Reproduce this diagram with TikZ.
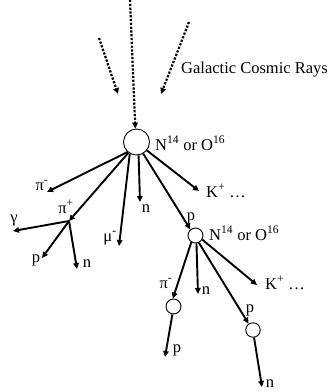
\documentclass[tikz,border=0pt]{standalone}
\usepackage{fontspec}
\setmainfont{Liberation Serif}
\usetikzlibrary{arrows.meta}

\begin{document}
\begin{tikzpicture}[
  x=1pt, y=-1pt,
  every node/.style={font=\fontsize{16.5}{19}\selectfont, inner sep=0pt},
  nucleus/.style={draw, circle, line width=0.9pt, inner sep=0pt},
  ray/.style={-{Triangle[length=6pt,width=5.5pt]}, line width=2.2pt, dash pattern=on 2.2pt off 1.6pt},
  track/.style={-{Triangle[length=6pt,width=5.5pt]}, line width=1.9pt}
]
\useasboundingbox (0,0) rectangle (330,392);

\node[nucleus, minimum size=26pt] (air) at (136.5,142) {};
\node[nucleus, minimum size=15pt] (air2) at (195.5,235.5) {};
\node[nucleus, minimum size=15pt] (pion) at (173.5,306.5) {};
\node[nucleus, minimum size=14.5pt] (prot) at (253,330) {};

\coordinate (top) at (130,0);
\coordinate (left) at (99,38);
\coordinate (lefttip) at (118,94);
\coordinate (right) at (189,22);
\coordinate (righttip) at (161,94);

\coordinate (pim) at (47,192);
\coordinate (pip) at (69,221);
\coordinate (mum) at (119,246);
\coordinate (n1) at (140,202);
\coordinate (kp1) at (199,191);
\coordinate (gam) at (13,231);
\coordinate (p1) at (42,258);
\coordinate (n2) at (77,269);
\coordinate (n3) at (198,294);
\coordinate (kp2) at (257,285);
\coordinate (p3) at (165,357);
\coordinate (n4) at (262,387);

\node[anchor=base west] (gcr) at (181,73) {Galactic Cosmic Rays};
\node[anchor=base west] (airlbl) at (155,150) {N\textsuperscript{14} or O\textsuperscript{16}};
\node[anchor=base west] (air2lbl) at (209,240) {N\textsuperscript{14} or O\textsuperscript{16}};

\node[anchor=base] (pimlbl) at (42,190) {π\textsuperscript{-}};
\node[anchor=base] (piplbl) at (66,213) {π\textsuperscript{+}};
\node[anchor=base] (gamlbl) at (14,222) {γ};
\node[anchor=base] (p1lbl) at (36,262) {p};
\node[anchor=base] (n2lbl) at (87,267) {n};
\node[anchor=base] (mumlbl) at (110,241) {μ\textsuperscript{-}};
\node[anchor=base] (n1lbl) at (146,212) {n};
\node[anchor=base west] (kp1lbl) at (206,197) {K\textsuperscript{+} …};
\node[anchor=base] (p2lbl) at (191,220) {p};
\node[anchor=base] (pim2lbl) at (166,288) {π\textsuperscript{-}};
\node[anchor=base] (n3lbl) at (206,294) {n};
\node[anchor=base west] (kp2lbl) at (265,289) {K\textsuperscript{+} …};
\node[anchor=base] (p4lbl) at (250,312) {p};
\node[anchor=base] (p3lbl) at (177,352) {p};
\node[anchor=base] (n4lbl) at (270,387) {n};

\draw[ray] (top) -- (air.95);
\draw[ray] (left) -- (lefttip);
\draw[ray] (right) -- (righttip);

\draw[track] (air.228) -- (pim);
\draw[track] (air.233) -- (pip);
\draw[track] (air.240) -- (mum);
\draw[track] (air.279) -- (n1);
\draw[track] (air.300) -- (air2.130);
\draw[track] (air.321) -- (kp1);

\draw[track] (pip) -- (gam);
\draw[track] (pip) -- (p1);
\draw[track] (pip) -- (n2);

\draw[track] (air2.238) -- (pion.95);
\draw[track] (air2.277) -- (n3);
\draw[track] (air2.295) -- (prot.125);
\draw[track] (air2.329) -- (kp2);

\draw[track] (pion.262) -- (p3);
\draw[track] (prot.278) -- (n4);

\end{tikzpicture}
\end{document}
